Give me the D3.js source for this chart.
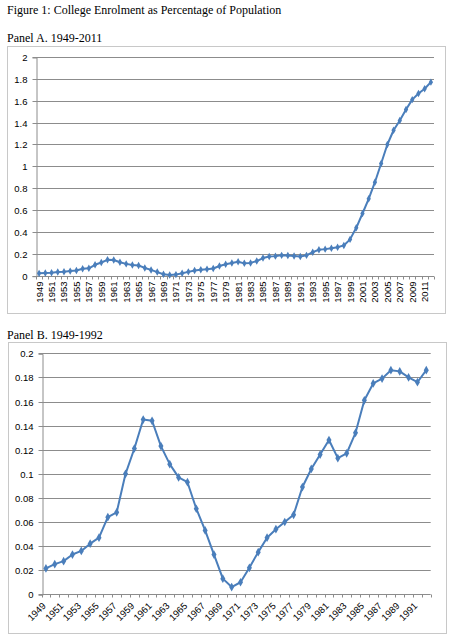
<!DOCTYPE html>
<html>
<head>
<meta charset="utf-8">
<script src="https://cdn.jsdelivr.net/npm/d3@7"></script>
<style>
  body { margin: 0; background: #fff; }
  .tick text { font-family: "Liberation Sans", Arial, sans-serif; font-size: 9.5px; fill: #000; }
  .grid line { stroke: #8c8c8c; stroke-width: 1; }
</style>
</head>
<body>
<div id="chart"></div>
<script>
const yearsA = [1949,1950,1951,1952,1953,1954,1955,1956,1957,1958,1959,1960,1961,1962,1963,1964,
    1965,1966,1967,1968,1969,1970,1971,1972,1973,1974,1975,1976,1977,1978,1979,1980,
    1981,1982,1983,1984,1985,1986,1987,1988,1989,1990,1991,1992,1993,1994,1995,1996,
    1997,1998,1999,2000,2001,2002,2003,2004,2005,2006,2007,2008,2009,2010,2011,2012];
const enrolA = [0.0215,0.025,0.0275,0.033,0.036,0.042,0.047,0.064,0.068,0.100,0.121,0.145,0.144,0.123,0.108,0.097,
    0.093,0.071,0.053,0.033,0.013,0.006,0.010,0.022,0.035,0.047,0.054,0.060,0.066,0.089,0.104,0.116,
    0.128,0.113,0.117,0.134,0.161,0.175,0.179,0.186,0.185,0.180,0.176,0.186,0.215,0.237,0.243,0.251,
    0.260,0.277,0.332,0.438,0.569,0.703,0.855,1.026,1.200,1.330,1.420,1.520,1.610,1.666,1.710,1.770];

const yearsB = [1949,1950,1951,1952,1953,1954,1955,1956,1957,1958,1959,1960,1961,1962,1963,1964,
    1965,1966,1967,1968,1969,1970,1971,1972,1973,1974,1975,1976,1977,1978,1979,1980,
    1981,1982,1983,1984,1985,1986,1987,1988,1989,1990,1991,1992];
const enrolB = [0.0215,0.025,0.0275,0.033,0.036,0.042,0.047,0.064,0.068,0.100,0.121,0.145,0.144,0.123,0.108,0.097,
    0.093,0.071,0.053,0.033,0.013,0.006,0.010,0.022,0.035,0.047,0.054,0.060,0.066,0.089,0.104,0.116,
    0.128,0.113,0.117,0.134,0.161,0.175,0.179,0.186,0.185,0.180,0.176,0.186];

const figTitle = "Figure 1: College Enrolment as Percentage of Population";
const titleA = "Panel A. 1949-2011";
const titleB = "Panel B. 1949-1992";

const lineColor = "#4a7ebb";
const width = 452, height = 640;

const svg = d3.select("#chart").append("svg")
    .attr("width", width)
    .attr("height", height);

const serif = "'Liberation Serif', 'Times New Roman', serif";

svg.append("text")
    .attr("x", 7).attr("y", 14)
    .style("font-family", serif)
    .style("font-size", "12px")
    .text(figTitle);

function drawPanel(opts) {
    const { years, values, title, titleY, frame, plot, yMax, rotate, markerSize } = opts;

    svg.append("text")
        .attr("x", 7).attr("y", titleY)
        .style("font-family", serif)
        .style("font-size", "12px")
        .text(title);

    svg.append("rect")
        .attr("x", frame.x + 0.5).attr("y", frame.y + 0.5)
        .attr("width", frame.w).attr("height", frame.h)
        .attr("fill", "none")
        .attr("stroke", "#c8c8c8");

    const x = d3.scaleBand()
        .domain(years)
        .range([plot.left, plot.right])
        .padding(0);

    const y = d3.scaleLinear()
        .domain([0, yMax])
        .range([plot.bottom, plot.top]);

    const yTicks = y.ticks(10);

    // gridlines
    svg.append("g")
        .attr("class", "grid")
        .selectAll("line")
        .data(yTicks.filter(d => d > 0))
        .enter()
        .append("line")
        .attr("x1", plot.left)
        .attr("x2", plot.right)
        .attr("y1", d => Math.round(y(d)) + 0.5)
        .attr("y2", d => Math.round(y(d)) + 0.5);

    // y axis
    const yAxis = svg.append("g")
        .attr("transform", `translate(${Math.round(plot.left) + 0.5},0.5)`)
        .call(d3.axisLeft(y)
            .tickValues(yTicks)
            .tickFormat(d3.format("~g"))
            .tickSize(4)
            .tickPadding(5));
    yAxis.select(".domain").attr("stroke", "#8c8c8c");
    yAxis.selectAll(".tick line").attr("stroke", "#8c8c8c");
    yAxis.selectAll(".tick").attr("transform", d => `translate(0,${Math.round(y(d))})`);

    // x axis, ticks on category boundaries
    const xg = svg.append("g")
        .attr("transform", `translate(0,${Math.round(plot.bottom) + 0.5})`);
    xg.append("line")
        .attr("x1", plot.left).attr("x2", plot.right)
        .attr("stroke", "#8c8c8c");
    xg.selectAll(".xtick")
        .data(years.concat([null]))
        .enter()
        .append("line")
        .attr("class", "xtick")
        .attr("x1", (d, i) => Math.round(plot.left + i * x.bandwidth()) + 0.5)
        .attr("x2", (d, i) => Math.round(plot.left + i * x.bandwidth()) + 0.5)
        .attr("y1", 0).attr("y2", 3)
        .attr("stroke", "#8c8c8c");

    const labelled = years.filter((d, i) => i % 2 === 0);
    const labels = xg.selectAll(".xlabel")
        .data(labelled)
        .enter()
        .append("text")
        .attr("class", "xlabel")
        .style("font-family", "'Liberation Sans', Arial, sans-serif")
        .style("font-size", "9.5px")
        .attr("text-anchor", "end");

    if (rotate === 90) {
        labels
            .attr("transform", d => `translate(${x(d) + x.bandwidth() / 2 + 3.5},5) rotate(-90)`)
            .text(d => d);
    } else {
        labels
            .attr("transform", d => `translate(${x(d) + x.bandwidth() / 2 + 0.5},12) rotate(-45)`)
            .text(d => d);
    }

    const pts = years.map((d, i) => ({ year: d, value: values[i] }));

    const line = d3.line()
        .x(d => x(d.year) + x.bandwidth() / 2)
        .y(d => y(d.value));

    svg.append("path")
        .datum(pts)
        .attr("fill", "none")
        .attr("stroke", lineColor)
        .attr("stroke-width", 2)
        .attr("stroke-linejoin", "round")
        .attr("d", line);

    svg.append("g")
        .selectAll("path")
        .data(pts)
        .enter()
        .append("path")
        .attr("d", d3.symbol().type(d3.symbolDiamond).size(markerSize))
        .attr("transform", d => `translate(${x(d.year) + x.bandwidth() / 2},${y(d.value)})`)
        .attr("fill", lineColor);
}

drawPanel({
    years: yearsA,
    values: enrolA,
    title: titleA,
    titleY: 42,
    frame: { x: 7, y: 46, w: 438, h: 267 },
    plot: { left: 36, right: 434, top: 57, bottom: 275.7 },
    yMax: 2,
    rotate: 90,
    markerSize: 16
});

drawPanel({
    years: yearsB,
    values: enrolB,
    title: titleB,
    titleY: 339,
    frame: { x: 8, y: 342, w: 438, h: 291 },
    plot: { left: 41.5, right: 430.7, top: 353.3, bottom: 594.3 },
    yMax: 0.2,
    rotate: 45,
    markerSize: 22
});
</script>
</body>
</html>
